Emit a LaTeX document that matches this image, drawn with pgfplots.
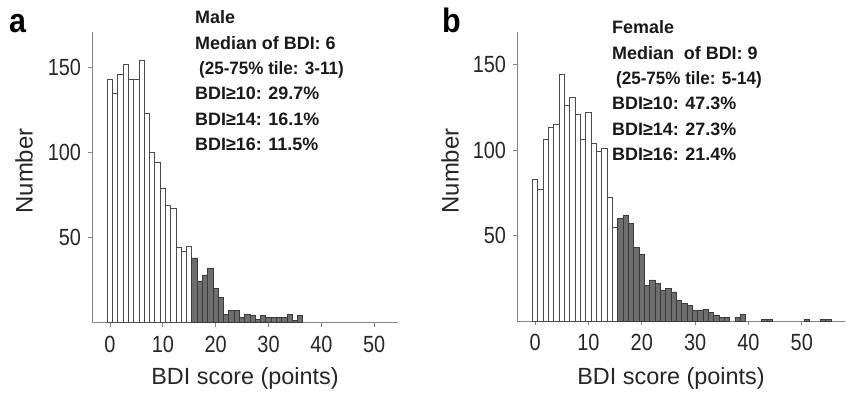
\documentclass[border=0pt]{standalone}
\usepackage{fontspec}
\setmainfont{Liberation Sans}
\newfontfamily\tickfont[FakeStretch=0.85]{Liberation Sans}
\newfontfamily\letterfont[FakeStretch=0.9]{Liberation Sans}
\newfontfamily\tilefont[FakeStretch=0.95]{Liberation Sans}
\usepackage{pgfplots}
\pgfplotsset{compat=1.18}
\definecolor{barline}{HTML}{4A4A4A}
\definecolor{darkbar}{HTML}{6E6E6E}
\definecolor{axline}{HTML}{858585}
\pgfplotsset{histax/.style={
  scale only axis, axis x line=bottom, axis y line=left,
  axis line style={-, axline, line width=0.9bp},
  tick align=outside, major tick length=4.5bp, tick style={axline, line width=0.9bp},
  ymin=0, xmin=-3.4, ytick={50,100,150}, xtick={0,10,...,50},
  /pgf/number format/assume math mode=true,
  ticklabel style={font=\tickfont\fontsize{23.5}{24}\selectfont, text=black!85},
  xticklabel style={yshift=-5.5bp},
  yticklabel style={xshift=-3bp},
  clip=false,
}}
\pgfplotstableread{
x y
0 143
1 135
2 146
3 152
4 143
5 143
6 154
7 123
8 100
9 94
10 79
11 69
12 67
13 44
14 42
15 45
}\malewhite
\pgfplotstableread{
x y
16 38
17 24
18 28
19 32
20 20
21 15
22 5
23 7
24 7
25 3
26 5
27 4
28 2
29 4
30 3
31 3
32 3
33 3
34 5
35 1
36 4
}\maledark
\pgfplotstableread{
x y
0 83
1 77
2 106
3 113
4 115
5 144
6 126
7 131
8 121
9 106
10 122
11 104
12 99
13 101
14 72
15 55
}\femalewhite
\pgfplotstableread{
x y
16 60
17 62
18 57
19 43
20 39
21 21
22 24
23 22
24 18
25 19
26 17
27 12
28 10
29 9
30 6
31 6
32 7
33 5
34 3
35 2
36 2
38 2
39 4
43 1
44 1
51 1
54 1
55 1
}\femaledark
\begin{document}
\begin{tikzpicture}
\useasboundingbox (0,0) rectangle (846bp,393bp);
\begin{axis}[histax, at={(92bp,70.5bp)}, anchor=south west,
  width=306bp, height=290.5bp, xmax=54.5, ymax=171]
\addplot[ybar, bar width=1, bar shift=0pt, fill=white, draw=barline, line width=0.8bp] table[x=x,y=y] {\malewhite};
\addplot[ybar, bar width=1, bar shift=0pt, fill=darkbar, draw=barline!80!black, line width=0.8bp] table[x=x,y=y] {\maledark};
\end{axis}
\begin{axis}[histax, at={(517bp,72bp)}, anchor=south west,
  width=328bp, height=289bp, xmax=58.1, ymax=169]
\addplot[ybar, bar width=1, bar shift=0pt, fill=white, draw=barline, line width=0.8bp] table[x=x,y=y] {\femalewhite};
\addplot[ybar, bar width=1, bar shift=0pt, fill=darkbar, draw=barline!80!black, line width=0.8bp] table[x=x,y=y] {\femaledark};
\end{axis}
% panel letters
\node[anchor=base west, inner sep=0, font=\letterfont\bfseries\fontsize{34}{34}\selectfont] at (9bp,360bp) {a};
\node[anchor=base west, inner sep=0, font=\letterfont\bfseries\fontsize{34}{34}\selectfont] at (442bp,360bp) {b};
% y labels
\node[rotate=90, inner sep=0, font=\fontsize{24}{24}\selectfont, text=black!85] at (24bp,222bp) {Number};
\node[rotate=90, inner sep=0, font=\fontsize{24}{24}\selectfont, text=black!85] at (450bp,222bp) {Number};
% x labels
\node[inner sep=0, font=\fontsize{23.5}{24}\selectfont, text=black!85] at (245bp,15bp) {BDI score (points)};
\node[inner sep=0, font=\fontsize{23.5}{24}\selectfont, text=black!85] at (671bp,15bp) {BDI score (points)};
% statistics
\begin{scope}[every node/.style={anchor=base west, inner sep=0, font=\bfseries\fontsize{18}{20}\selectfont, text=black!90}]
\node at (195bp,369bp) {Male};
\node at (195bp,343.7bp) {Median of BDI: 6};
\node[font=\tilefont\bfseries\fontsize{18}{20}\selectfont] at (199bp,318.4bp) {(25-75\% tile: 3-11)};
\node at (195bp,293.1bp) {BDI≥10: 29.7\%};
\node at (195bp,267.8bp) {BDI≥14: 16.1\%};
\node at (195bp,242.5bp) {BDI≥16: 11.5\%};
\node at (612bp,359bp) {Female};
\node at (612bp,333.7bp) {Median\ \ of BDI: 9};
\node[font=\tilefont\bfseries\fontsize{18}{20}\selectfont] at (616bp,308.4bp) {(25-75\% tile: 5-14)};
\node at (612bp,283.1bp) {BDI≥10: 47.3\%};
\node at (612bp,257.8bp) {BDI≥14: 27.3\%};
\node at (612bp,232.5bp) {BDI≥16: 21.4\%};
\end{scope}
\end{tikzpicture}
\end{document}
